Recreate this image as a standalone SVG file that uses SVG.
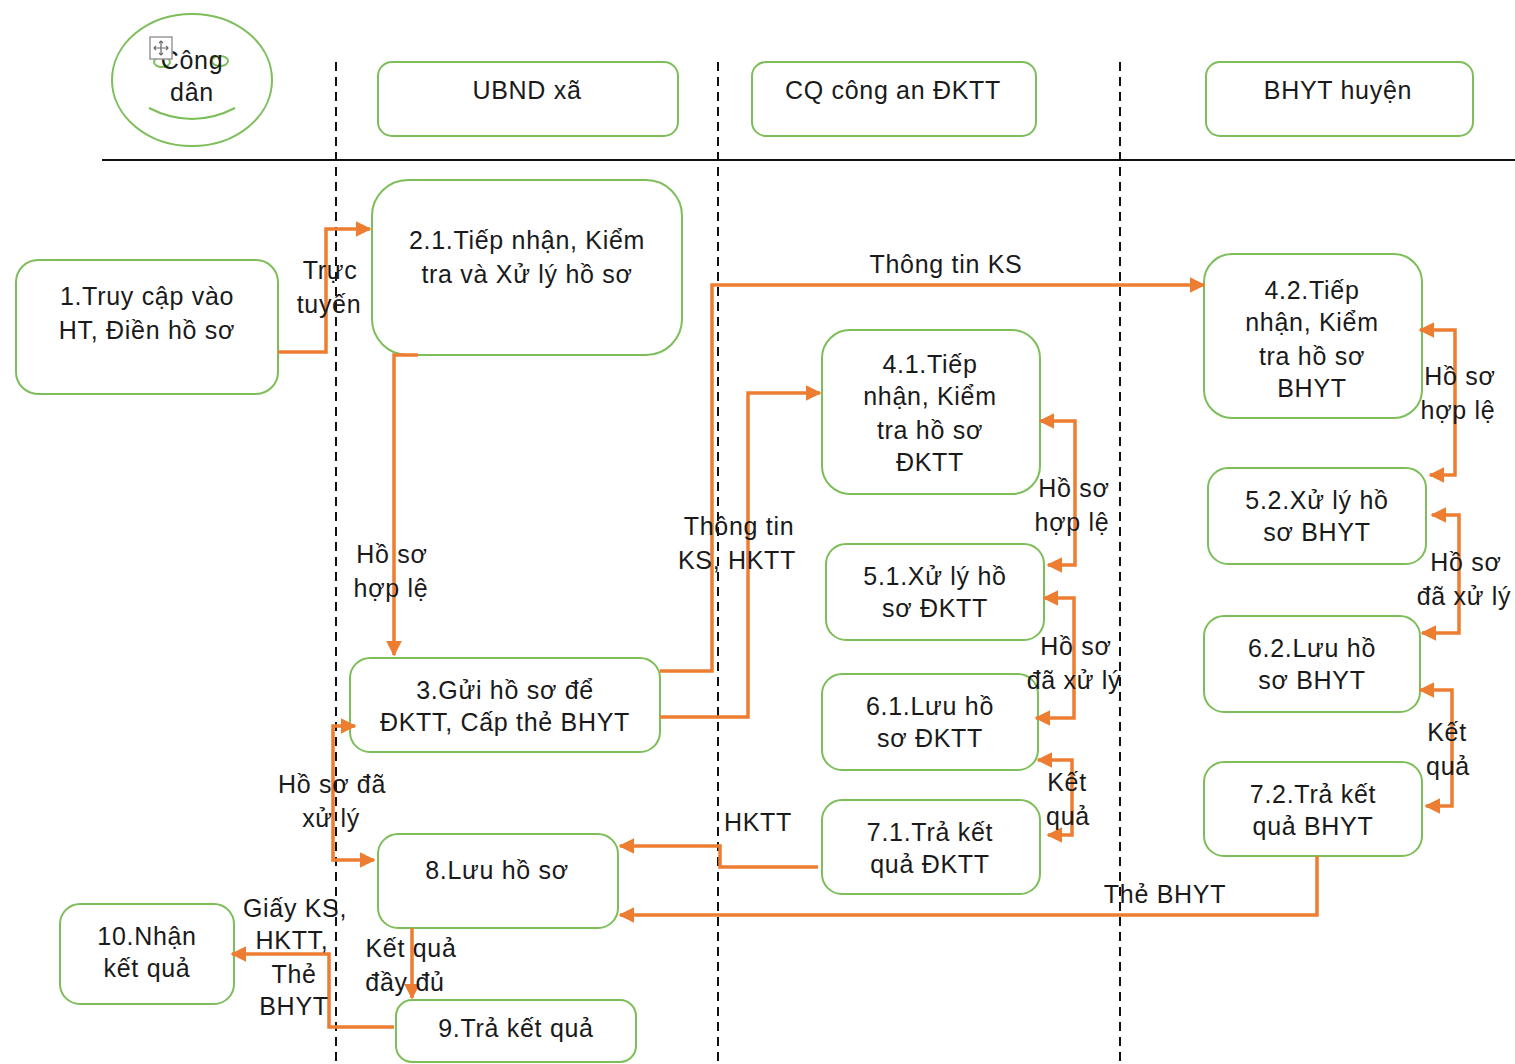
<svg xmlns="http://www.w3.org/2000/svg" width="1515" height="1064" viewBox="0 0 1515 1064">
<defs>
<style>
.box{fill:#fff;stroke:#7DBE5A;stroke-width:2}
.t{font-family:"Liberation Sans",Arial,sans-serif;font-size:25px;fill:#1a1a1a;text-anchor:middle;letter-spacing:0.7px}
.c{fill:none;stroke:#ED7D31;stroke-width:3.5}
.d{stroke:#111;stroke-width:2;stroke-dasharray:9,6}
</style>
<marker id="ah" viewBox="0 0 10 10" refX="9" refY="5" markerWidth="16" markerHeight="16" markerUnits="userSpaceOnUse" orient="auto-start-reverse">
<path d="M0,0 L10,5 L0,10 z" fill="#ED7D31"/>
</marker>
</defs>
<rect width="1515" height="1064" fill="#fff"/>

<g id="lanes">
<line class="d" x1="336" y1="62" x2="336" y2="1064"/>
<line class="d" x1="718" y1="62" x2="718" y2="1064"/>
<line class="d" x1="1120" y1="62" x2="1120" y2="1064"/>
<line x1="102" y1="160" x2="1515" y2="160" stroke="#111" stroke-width="2"/>
</g>

<g id="cong-dan">
<ellipse cx="192" cy="80" rx="80" ry="66" fill="#fff" stroke="#7DBE5A" stroke-width="2"/>
<ellipse cx="162" cy="62" rx="8" ry="5" fill="none" stroke="#7DBE5A" stroke-width="2"/>
<ellipse cx="220" cy="61" rx="8" ry="5" fill="none" stroke="#7DBE5A" stroke-width="2"/>
<path d="M149,108 Q192,130 235,108" fill="none" stroke="#7DBE5A" stroke-width="2"/>
<text class="t" x="192" y="69">Công</text>
<text class="t" x="192" y="101">dân</text>
<g id="move-handle" stroke="#666" fill="none" stroke-width="1.2">
<rect x="150" y="37" width="22" height="22" fill="#fff" stroke="#999" stroke-width="1.5"/>
<path d="M161,41 V55 M154,48 H168"/>
<path d="M159,43 L161,41 L163,43 M159,53 L161,55 L163,53 M156,46 L154,48 L156,50 M166,46 L168,48 L166,50"/>
</g>
</g>

<g id="h-ubnd"><rect class="box" x="378" y="62" width="300" height="74" rx="14"/><text class="t" x="527" y="99">UBND xã</text></g>
<g id="h-ca"><rect class="box" x="752" y="62" width="284" height="74" rx="14"/><text class="t" x="893" y="99">CQ công an ĐKTT</text></g>
<g id="h-bhyt"><rect class="box" x="1206" y="62" width="267" height="74" rx="14"/><text class="t" x="1338" y="99">BHYT huyện</text></g>

<g id="n1"><rect class="box" x="16" y="260" width="262" height="134" rx="22"/><text class="t" x="147" y="305">1.Truy cập vào</text><text class="t" x="147" y="339">HT, Điền hồ sơ</text></g>
<g id="n21"><rect class="box" x="372" y="180" width="310" height="175" rx="36"/><text class="t" x="527" y="249">2.1.Tiếp nhận, Kiểm</text><text class="t" x="527" y="283">tra và Xử lý hồ sơ</text></g>
<g id="n3"><rect class="box" x="350" y="658" width="310" height="94" rx="20"/><text class="t" x="505" y="699">3.Gửi hồ sơ để</text><text class="t" x="505" y="731">ĐKTT, Cấp thẻ BHYT</text></g>
<g id="n41"><rect class="box" x="822" y="330" width="218" height="164" rx="28"/><text class="t" x="930" y="373">4.1.Tiếp</text><text class="t" x="930" y="405">nhận, Kiểm</text><text class="t" x="930" y="439">tra hồ sơ</text><text class="t" x="930" y="471">ĐKTT</text></g>
<g id="n51"><rect class="box" x="826" y="544" width="218" height="96" rx="20"/><text class="t" x="935" y="585">5.1.Xử lý hồ</text><text class="t" x="935" y="617">sơ ĐKTT</text></g>
<g id="n61"><rect class="box" x="822" y="674" width="216" height="96" rx="20"/><text class="t" x="930" y="715">6.1.Lưu hồ</text><text class="t" x="930" y="747">sơ ĐKTT</text></g>
<g id="n71"><rect class="box" x="822" y="800" width="218" height="94" rx="20"/><text class="t" x="930" y="841">7.1.Trả kết</text><text class="t" x="930" y="873">quả ĐKTT</text></g>
<g id="n42"><rect class="box" x="1204" y="254" width="218" height="164" rx="28"/><text class="t" x="1312" y="299">4.2.Tiếp</text><text class="t" x="1312" y="331">nhận, Kiểm</text><text class="t" x="1312" y="365">tra hồ sơ</text><text class="t" x="1312" y="397">BHYT</text></g>
<g id="n52"><rect class="box" x="1208" y="468" width="218" height="96" rx="20"/><text class="t" x="1317" y="509">5.2.Xử lý hồ</text><text class="t" x="1317" y="541">sơ BHYT</text></g>
<g id="n62"><rect class="box" x="1204" y="616" width="216" height="96" rx="20"/><text class="t" x="1312" y="657">6.2.Lưu hồ</text><text class="t" x="1312" y="689">sơ BHYT</text></g>
<g id="n72"><rect class="box" x="1204" y="762" width="218" height="94" rx="20"/><text class="t" x="1313" y="803">7.2.Trả kết</text><text class="t" x="1313" y="835">quả BHYT</text></g>
<g id="n8"><rect class="box" x="378" y="834" width="240" height="94" rx="20"/><text class="t" x="497" y="879">8.Lưu hồ sơ</text></g>
<g id="n9"><rect class="box" x="396" y="1000" width="240" height="62" rx="16"/><text class="t" x="516" y="1037">9.Trả kết quả</text></g>
<g id="n10"><rect class="box" x="60" y="904" width="174" height="100" rx="20"/><text class="t" x="147" y="945">10.Nhận</text><text class="t" x="147" y="977">kết quả</text></g>

<g id="connectors">
<path class="c" d="M278,352 H326 V229 H370" marker-end="url(#ah)"/>
<path class="c" d="M418,355 H394 V655" marker-end="url(#ah)"/>
<path class="c" d="M660,671 H712 V285 H1204" marker-end="url(#ah)"/>
<path class="c" d="M660,717 H748 V393 H820" marker-end="url(#ah)"/>
<path class="c" d="M1040,421 H1075 V565 H1048" marker-start="url(#ah)" marker-end="url(#ah)"/>
<path class="c" d="M1044,598 H1074 V718 H1036" marker-start="url(#ah)" marker-end="url(#ah)"/>
<path class="c" d="M1038,760 H1072 V835 H1048" marker-start="url(#ah)" marker-end="url(#ah)"/>
<path class="c" d="M1420,330 H1455 V475 H1430" marker-start="url(#ah)" marker-end="url(#ah)"/>
<path class="c" d="M1432,515 H1459 V633 H1422" marker-start="url(#ah)" marker-end="url(#ah)"/>
<path class="c" d="M1420,690 H1452 V806 H1426" marker-start="url(#ah)" marker-end="url(#ah)"/>
<path class="c" d="M818,867 H720 V846 H620" marker-end="url(#ah)"/>
<path class="c" d="M1317,856 V915 H620" marker-end="url(#ah)"/>
<path class="c" d="M355,726 H333 V860 H374" marker-start="url(#ah)" marker-end="url(#ah)"/>
<path class="c" d="M412,928 V998" marker-end="url(#ah)"/>
<path class="c" d="M394,1027 H329 V954 H232" marker-end="url(#ah)"/>
</g>

<g id="labels">
<text class="t" x="330" y="279">Trực</text><text class="t" x="329" y="313">tuyến</text>
<text class="t" x="392" y="563">Hồ sơ</text><text class="t" x="391" y="597">hợp lệ</text>
<text class="t" x="946" y="273">Thông tin KS</text>
<text class="t" x="739" y="535">Thông tin</text><text class="t" x="737" y="569">KS, HKTT</text>
<text class="t" x="1074" y="497">Hồ sơ</text><text class="t" x="1072" y="531">hợp lệ</text>
<text class="t" x="1076" y="655">Hồ sơ</text><text class="t" x="1074" y="689">đã xử lý</text>
<text class="t" x="1067" y="791">Kết</text><text class="t" x="1068" y="825">quả</text>
<text class="t" x="1460" y="385">Hồ sơ</text><text class="t" x="1458" y="419">hợp lệ</text>
<text class="t" x="1466" y="571">Hồ sơ</text><text class="t" x="1464" y="605">đã xử lý</text>
<text class="t" x="1447" y="741">Kết</text><text class="t" x="1448" y="775">quả</text>
<text class="t" x="758" y="831">HKTT</text>
<text class="t" x="1165" y="903">Thẻ BHYT</text>
<text class="t" x="332" y="793">Hồ sơ đã</text><text class="t" x="331" y="827">xử lý</text>
<text class="t" x="411" y="957">Kết quả</text><text class="t" x="405" y="991">đầy đủ</text>
<text class="t" x="295" y="917">Giấy KS,</text><text class="t" x="292" y="949">HKTT,</text><text class="t" x="294" y="983">Thẻ</text><text class="t" x="294" y="1015">BHYT</text>
</g>
</svg>
